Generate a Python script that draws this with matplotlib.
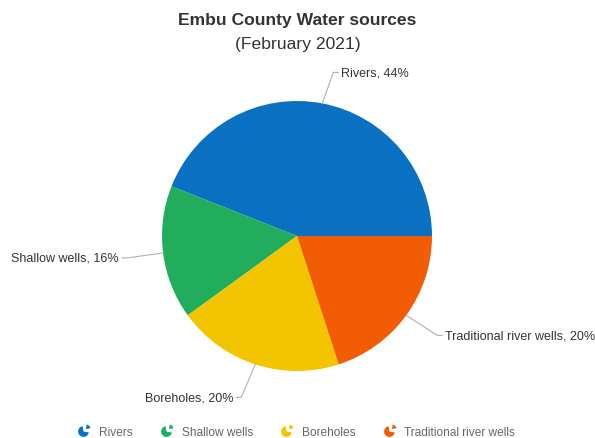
import numpy as np
import matplotlib.pyplot as plt
from matplotlib.path import Path
from matplotlib.lines import Line2D

plt.rcParams['font.family'] = ['Liberation Sans', 'DejaVu Sans']

labels = ["Rivers", "Shallow wells", "Boreholes", "Traditional river wells"]
shares = [44, 16, 20, 20]
colors = ["#0a71c2", "#22ad5c", "#f2c500", "#f25c05"]
# label offsets from wedge edge, in pixels (dx, dy)
label_off = [(19, 31), (-44, -5), (-22, -33), (39, -20)]

W, H = 595, 439
cx, cy, r = 297, 237, 135
fig = plt.figure(figsize=(W / 100, H / 100), dpi=100)
ax = fig.add_axes([(cx - r) / W, (H - cy - r) / H, 2 * r / W, 2 * r / H])

wedges, _ = ax.pie(shares, colors=colors, startangle=0, counterclock=True,
                   radius=1, center=(0, 0), frame=True)
ax.set_xlim(-1, 1)
ax.set_ylim(-1, 1)
ax.set_aspect('equal')
ax.axis('off')

px = 1 / r
for w, lab, s, (dx, dy) in zip(wedges, labels, shares, label_off):
    ang = np.deg2rad((w.theta1 + w.theta2) / 2)
    ex, ey = np.cos(ang), np.sin(ang)
    tx, ty = ex + dx * px, ey + dy * px
    side = 1 if dx > 0 else -1
    ax.plot([ex, tx - side * 8 * px, tx - side * 3 * px], [ey, ty, ty],
            color="#b0b0b0", lw=0.8, clip_on=False)
    ax.text(tx, ty, f"{lab}, {s}%", ha='left' if side > 0 else 'right',
            va='center', fontsize=9, color="#333333")

fig.text(0.5, 1 - 20 / H, "Embu County Water sources", ha='center', va='center',
         fontsize=12.6, fontweight='bold', color="#333333")
fig.text(0.5, 1 - 44 / H, "(February 2021)", ha='center', va='center',
         fontsize=12.6, color="#333333")

# little pie icon for legend: pie with the top-right slice pulled out
big = Path.wedge(100, 350)
small = Path.wedge(10, 80)
small = Path(small.vertices * 0.85 + 0.45, small.codes)
icon = Path.make_compound_path(big, small)

handles = [Line2D([], [], marker=icon, color=c, markersize=10, linestyle='None',
                  markeredgewidth=0)
           for c in colors]
leg = fig.legend(handles, labels, loc='center', bbox_to_anchor=(0.497, 1 - 433 / H),
                 ncol=4, frameon=False, fontsize=8.6, handletextpad=0.7,
                 columnspacing=2.2, handlelength=1.2)
for t in leg.get_texts():
    t.set_color("#666666")

fig.savefig("out.png", dpi=100)
